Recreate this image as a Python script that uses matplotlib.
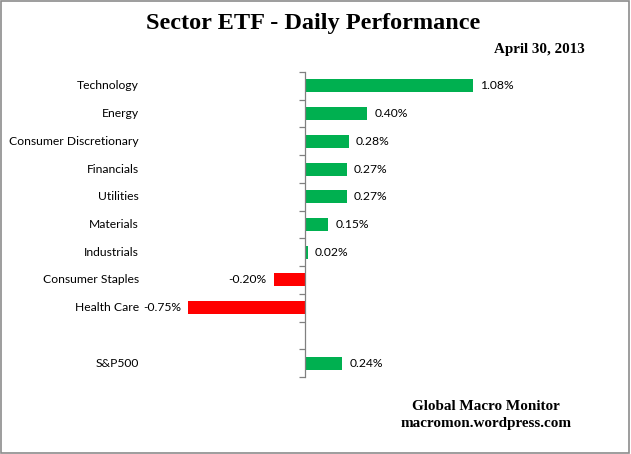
import numpy as np
import matplotlib.pyplot as plt
from matplotlib.transforms import blended_transform_factory
from matplotlib.patches import Rectangle

sectors = ["Technology", "Energy", "Consumer Discretionary", "Financials",
           "Utilities", "Materials", "Industrials", "Consumer Staples",
           "Health Care", "", "S&P500"]
returns = [1.08, 0.40, 0.28, 0.27, 0.27, 0.15, 0.02, -0.20, -0.75, np.nan, 0.24]
value_labels = ["1.08%", "0.40%", "0.28%", "0.27%", "0.27%", "0.15%", "0.02%",
                "-0.20%", "-0.75%", "", "0.24%"]

title = "Sector ETF - Daily Performance"
date_text = "April 30, 2013"
footer = ["Global Macro Monitor", "macromon.wordpress.com"]

label_font = "Lato"
serif_font = "Liberation Serif"

fig = plt.figure(figsize=(6.31, 4.54), dpi=100)
fig.patches.append(Rectangle((0.002, 0.003), 0.995, 0.994, transform=fig.transFigure,
                             fill=False, edgecolor="#8c8c8c", linewidth=1.2))

# plot area: zero line at pixel 305, ~156 px per 1%
ax = fig.add_axes([150 / 631, 1 - 377 / 454, 430 / 631, 305 / 454])
px_per_pct = 156.0
ax.set_xlim((150 - 305) / px_per_pct, (580 - 305) / px_per_pct)
ax.set_ylim(len(sectors) - 0.5, -0.5)

ypos = np.arange(len(sectors))
vals = np.array(returns, dtype=float)
colors = ["#00B050" if v >= 0 else "#FF0000" for v in np.nan_to_num(vals)]
ax.barh(ypos, np.nan_to_num(vals), height=0.47, color=colors, zorder=2)

for spine in ["top", "right", "bottom"]:
    ax.spines[spine].set_visible(False)
ax.spines["left"].set_position(("data", 0))
ax.spines["left"].set_color("#808080")
ax.spines["left"].set_linewidth(0.9)
ax.set_yticks(np.arange(len(sectors) + 1) - 0.5)
ax.set_yticklabels([])
ax.tick_params(axis="y", direction="out", length=4, color="#808080", width=0.9)
ax.set_xticks([])

trans = blended_transform_factory(fig.transFigure, ax.transData)
for y, name in zip(ypos, sectors):
    ax.text(139 / 631, y, name, transform=trans, ha="right", va="center",
            fontsize=8.7, family=label_font, color="#000000")

for y, v, lab in zip(ypos, vals, value_labels):
    if np.isnan(v):
        continue
    if v >= 0:
        ax.annotate(lab, (v, y), xytext=(5, 0), textcoords="offset points",
                    ha="left", va="center", fontsize=8.7, family=label_font)
    else:
        ax.annotate(lab, (v, y), xytext=(-5, 0), textcoords="offset points",
                    ha="right", va="center", fontsize=8.7, family=label_font)

fig.text(313 / 631, 1 - 24 / 454, title, ha="center", va="center",
         fontsize=17.5, fontweight="bold", family=serif_font)
fig.text(585 / 631, 1 - 50 / 454, date_text, ha="right", va="center",
         fontsize=10.8, fontweight="bold", family=serif_font)
fig.text(486 / 631, 1 - 407 / 454, footer[0], ha="center", va="center",
         fontsize=10.9, fontweight="bold", family=serif_font)
fig.text(486 / 631, 1 - 424 / 454, footer[1], ha="center", va="center",
         fontsize=10.9, fontweight="bold", family=serif_font)

fig.savefig("out.png", dpi=100)
